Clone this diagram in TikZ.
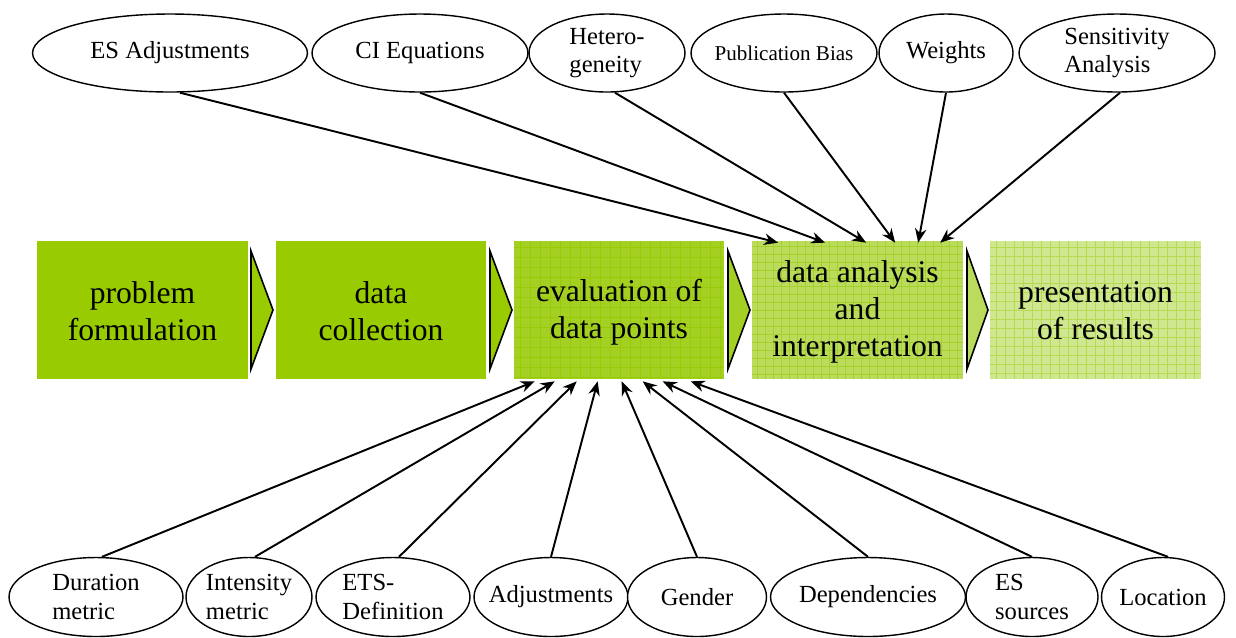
\documentclass[tikz,border=0pt]{standalone}
\usepackage{fontspec}
\setmainfont{Liberation Serif}
\usetikzlibrary{shapes.geometric,arrows.meta,calc}

\definecolor{solidgreen}{RGB}{153,204,0}
\definecolor{gridbaseA}{RGB}{164,208,36}
\definecolor{gridlineA}{RGB}{152,202,6}
\definecolor{gridbaseB}{RGB}{186,219,92}
\definecolor{gridlineB}{RGB}{166,209,44}
\definecolor{gridbaseC}{RGB}{208,231,146}
\definecolor{gridlineC}{RGB}{182,217,80}

\tikzset{
  stagebox/.style={rectangle, minimum width=4.2cm, minimum height=2.76cm,
    inner sep=0pt, align=center, font=\fontsize{18}{21}\selectfont},
  topic/.style={ellipse, draw=black, line width=0.8pt, fill=white, inner sep=-6pt,
    align=left, font=\fontsize{14}{16}\selectfont},
  chevron/.style={draw=black, line width=0.9pt, line join=miter},
  conn/.style={line width=1.1pt, -{Stealth[length=8pt,width=6.5pt]}},
}

\begin{document}
\begin{tikzpicture}[x=0.02cm, y=-0.02cm]
\useasboundingbox (0,0) rectangle (1236,637);

% --- process stage backgrounds ---
\fill[solidgreen] (37,241) rectangle (248,379);
\fill[solidgreen] (276,241) rectangle (486,379);
\fill[gridbaseA] (514,241) rectangle (724,379);
\foreach \x in {520,530,...,720} \draw[gridlineA, line width=0.5pt] (\x,241) -- (\x,379);
\foreach \y in {247,257,...,377} \draw[gridlineA, line width=0.5pt] (514,\y) -- (724,\y);
\fill[gridbaseB] (752,241) rectangle (963,379);
\foreach \x in {757,765,...,961} \draw[gridlineB, line width=0.5pt] (\x,241) -- (\x,379);
\foreach \y in {246,254,...,378} \draw[gridlineB, line width=0.5pt] (752,\y) -- (963,\y);
\fill[gridbaseC] (990,241) rectangle (1201,379);
\foreach \x in {996,1005,...,1199} \draw[gridlineC, line width=0.5pt] (\x,241) -- (\x,379);
\foreach \y in {247,256,...,378} \draw[gridlineC, line width=0.5pt] (990,\y) -- (1201,\y);

% --- chevrons between stages ---
\draw[chevron, fill=solidgreen] (251,251) -- (273,310) -- (251,369) -- cycle;
\draw[chevron, fill=solidgreen] (490,251) -- (512,310) -- (490,369) -- cycle;
\draw[chevron, fill=gridbaseA] (728,251) -- (750,310) -- (728,369) -- cycle;
\draw[chevron, fill=gridbaseB] (967,251) -- (988,310) -- (967,369) -- cycle;

% --- stage labels ---
\node[stagebox] (b1) at (142.5,311) {problem\\formulation};
\node[stagebox] (b2) at (381,311) {data\\collection};
\node[stagebox] (b3) at (619,312) {evaluation of\\data points};
\node[stagebox] (b4) at (857.5,312) {data analysis\\and\\interpretation};
\node[stagebox] (b5) at (1095.5,311) {presentation\\of results};

% --- analysis topics ---
\node[topic, minimum width=5.5cm, minimum height=1.56cm] (esadj) at (170,53) {ES Adjustments};
\node[topic, minimum width=4.32cm, minimum height=1.56cm] (ci) at (420,53) {CI Equations};
\node[topic, minimum width=3.12cm, minimum height=1.56cm] (het) at (607,53) {Hetero-\\geneity};
\node[topic, minimum width=3.72cm, minimum height=1.56cm, font=\fontsize{12}{14}\selectfont] (pub) at (784,53) {Publication Bias};
\node[topic, minimum width=2.68cm, minimum height=1.56cm] (wts) at (946,53) {Weights};
\node[topic, minimum width=3.92cm, minimum height=1.56cm] (sens) at (1117,53) {Sensitivity\\Analysis};

% --- evaluation topics ---
\node[topic, minimum width=3.48cm, minimum height=1.58cm] (dur) at (96,597) {Duration\\metric};
\node[topic, minimum width=2.52cm, minimum height=1.58cm] (int) at (249,597) {Intensity\\metric};
\node[topic, minimum width=3.08cm, minimum height=1.58cm] (ets) at (393,597) {ETS-\\Definition};
\node[topic, minimum width=3.08cm, minimum height=1.58cm] (adj) at (551,597) {Adjustments};
\node[topic, minimum width=2.78cm, minimum height=1.58cm] (gen) at (697,597) {Gender};
\node[topic, minimum width=3.9cm, minimum height=1.58cm] (dep) at (868,597) {Dependencies};
\node[topic, minimum width=2.64cm, minimum height=1.58cm] (ess) at (1032,597) {ES\\sources};
\node[topic, minimum width=2.46cm, minimum height=1.58cm] (loc) at (1163,597) {Location};

% --- connectors into data analysis ---
\draw[conn] ([xshift=0.2cm]esadj.south) -- ($(b4.north west)+(26,0)$);
\draw[conn] (ci.south) -- ($(b4.north west)+(73,0)$);
\draw[conn] ([xshift=0.16cm]het.south) -- ($(b4.north west)+(114,0)$);
\draw[conn] (pub.south) -- ($(b4.north west)+(143,0)$);
\draw[conn] (wts.south) -- ($(b4.north west)+(166,0)$);
\draw[conn] ([xshift=0.06cm]sens.south) -- ($(b4.north west)+(188,0)$);

% --- connectors into evaluation ---
\draw[conn] ([xshift=0.12cm]dur.north) -- ($(b3.south west)+(21,0)$);
\draw[conn] ([xshift=0.12cm]int.north) -- ($(b3.south west)+(41,0)$);
\draw[conn] ([xshift=0.12cm]ets.north) -- ($(b3.south west)+(63,0)$);
\draw[conn] (adj.north) -- ($(b3.south west)+(84,0)$);
\draw[conn] (gen.north) -- ($(b3.south west)+(108,0)$);
\draw[conn] (dep.north) -- ($(b3.south west)+(129,0)$);
\draw[conn] (ess.north) -- ($(b3.south west)+(149,0)$);
\draw[conn] ([xshift=0.1cm]loc.north) -- ($(b3.south west)+(177,0)$);
\end{tikzpicture}
\end{document}
